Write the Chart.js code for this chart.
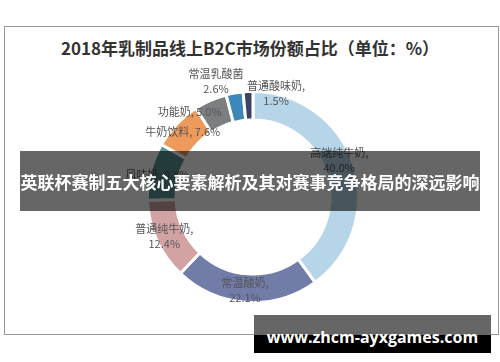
<!DOCTYPE html>
<html lang="zh">
<head>
    <meta charset="UTF-8">
    <title>2018年乳制品线上B2C市场份额占比</title>
    <script src="https://cdn.jsdelivr.net/npm/chart.js"></script>
    <style>
        body {
            margin: 0;
            padding: 0;
            background: #fff;
            font-family: "Noto Sans CJK SC", sans-serif;
        }
        .page {
            position: relative;
            width: 500px;
            height: 362px;
            overflow: hidden;
        }
        .frame {
            position: absolute;
            left: 4px;
            top: 26px;
            width: 493px;
            height: 307px;
            border: 1px solid #999;
        }
        .title {
            position: absolute;
            left: 0;
            top: 35px;
            width: 500px;
            text-align: center;
            font-size: 17px;
            font-weight: bold;
            color: #333;
            font-family: "Noto Sans CJK SC", serif;
        }
        canvas {
            position: absolute;
            left: 0;
            top: 0;
        }
        .band {
            position: absolute;
            left: 20px;
            top: 151px;
            width: 460px;
            height: 60px;
            background: rgba(0, 0, 0, 0.6);
            color: #fff;
            font-size: 17px;
            font-weight: bold;
            line-height: 62px;
            text-align: center;
            white-space: nowrap;
        }
        .mark {
            position: absolute;
            left: 254px;
            top: 315px;
            width: 237px;
            height: 38px;
            background: linear-gradient(#666 0, #666 20px, #000 20px, #000 100%);
            color: #fff;
            font-family: "Open Sans", sans-serif;
            font-size: 16px;
            font-weight: bold;
            line-height: 44px;
            text-align: center;
            white-space: nowrap;
        }
    </style>
</head>
<body>
<div class="page">
    <div class="frame"></div>
    <div class="title">2018年乳制品线上B2C市场份额占比（单位：%）</div>
    <canvas id="pie" width="500" height="362"></canvas>
    <div class="band">英联杯赛制五大核心要素解析及其对赛事竞争格局的深远影响</div>
    <div class="mark">www.zhcm-ayxgames.com</div>
</div>

<script>
    const categories = ['高端纯牛奶', '常温酸奶', '普通纯牛奶', '风味奶', '牛奶饮料', '功能奶', '常温乳酸菌', '普通酸味奶'];
    const shares = [40.0, 22.1, 12.4, 8.8, 7.6, 5.0, 2.6, 1.5];
    const colors = ['#b7d5e8', '#717ca8', '#d3a3a3', '#5a9596', '#ee9a5c', '#7b7f7f', '#3d87b9', '#3b4563'];

    // where each label sits: angle from top (deg), distance as part of outer radius
    const labelSpots = [
        { a: 66.7, r: 0.89, one: false, comma: true },
        { a: 184.9, r: 0.89, one: false, comma: true },
        { a: 246.1, r: 0.92, one: false, comma: true },
        { a: 283, r: 0.93, one: true },
        { a: 312.9, r: 0.91, one: true },
        { a: 323.5, r: 1.01, one: true },
        { a: 342.2, r: 1.15, one: false, comma: false },
        { a: 12.5, r: 1.01, one: false, comma: true }
    ];

    const sliceLabels = {
        id: 'sliceLabels',
        afterDatasetsDraw(chart) {
            const ctx = chart.ctx;
            const arc = chart.getDatasetMeta(0).data[0];
            const cx = arc.x, cy = arc.y, R = arc.outerRadius;
            ctx.save();
            ctx.fillStyle = '#555';
            ctx.font = '11px "Noto Sans CJK SC", sans-serif';
            ctx.textAlign = 'center';
            ctx.textBaseline = 'middle';
            categories.forEach((name, i) => {
                const s = labelSpots[i];
                const ang = s.a * Math.PI / 180;
                const x = cx + Math.sin(ang) * R * s.r;
                const y = cy - Math.cos(ang) * R * s.r;
                const val = shares[i].toFixed(1) + '%';
                if (s.one) {
                    ctx.fillText(name + ', ' + val, x, y);
                } else {
                    ctx.fillText(name + (s.comma ? ',' : ''), x, y - 7.5);
                    ctx.fillText(val, x, y + 7.5);
                }
            });
            ctx.restore();
        }
    };

    new Chart(document.getElementById('pie'), {
        type: 'doughnut',
        data: {
            labels: categories,
            datasets: [{
                data: shares,
                backgroundColor: colors,
                borderColor: '#fff',
                borderWidth: 3,
                hoverOffset: 0
            }]
        },
        options: {
            responsive: false,
            animation: false,
            cutout: '73%',
            layout: {
                padding: { left: 146, right: 140, top: 90, bottom: 58 }
            },
            plugins: {
                legend: { display: false },
                tooltip: { enabled: false }
            }
        },
        plugins: [sliceLabels]
    });
</script>
</body>
</html>
